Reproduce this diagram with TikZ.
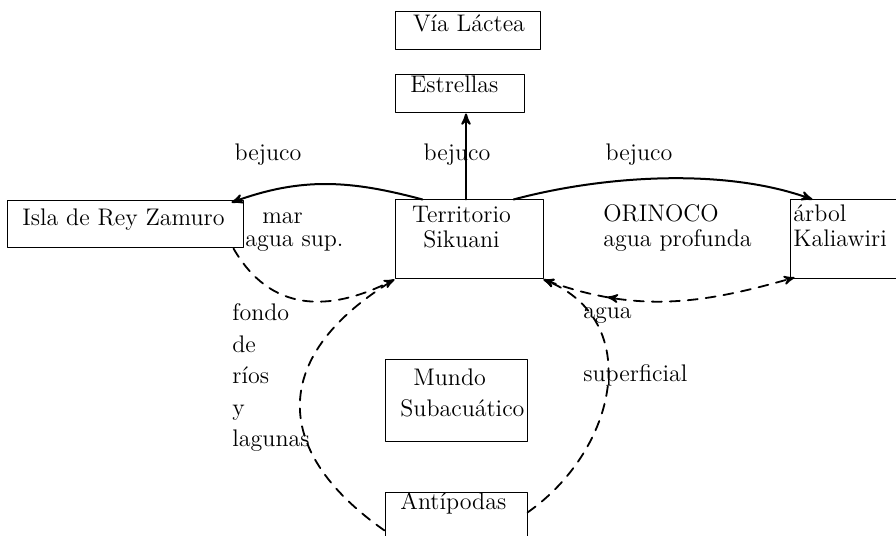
\documentclass[tikz,border=0pt]{standalone}
\usepackage{tikz}
\usetikzlibrary{arrows}
\usetikzlibrary{decorations.markings}
\tikzset{
  caja/.style={draw, line width=0.5pt, inner sep=0pt},
  txt/.style={inner sep=0pt, align=left},
  ancho/.style={font=\fontsize{12}{15.8}\selectfont},
  bejuco/.style={line width=1pt, ->},
  agua/.style={line width=0.9pt, dash pattern=on 5pt off 4pt, ->},
  flechamedio/.style={postaction={decorate}, decoration={markings, mark=at position 0.3 with {\arrow{<}}}}
}
\begin{document}
\begin{tikzpicture}[line cap=round,line join=round,>=stealth',x=0.5pt,y=0.5pt,font=\fontsize{12}{12.5}\selectfont]
\useasboundingbox (0,0) rectangle (896,536);
% cajas
\node[caja, minimum width=72.5pt, minimum height=19pt] (via) at (467.5,505) {};
\node[caja, minimum width=64.5pt, minimum height=19pt] (estr) at (459.5,442) {};
\node[caja, minimum width=118pt, minimum height=23.5pt] (isla) at (125,311.5) {};
\node[caja, minimum width=74pt, minimum height=39.5pt] (terr) at (469,296.5) {};
\node[caja, minimum width=60pt, minimum height=39.5pt] (arbol) at (850,296.5) {};
\node[caja, minimum width=71pt, minimum height=41pt] (mundo) at (456,135) {};
\node[caja, minimum width=71pt, minimum height=33.5pt] (antip) at (456,9.5) {};
% textos de las cajas (base = ultima linea)
\node[txt, anchor=base] (via1) at (469,504) {Vía Láctea};
\node[txt, anchor=base west] (estr1) at (410,443) {Estrellas};
\node[txt, anchor=base west] (isla1) at (22,310) {Isla de Rey Zamuro};
\node[txt, align=center, anchor=base] (terr1) at (461.5,288) {Territorio\\Sikuani};
\node[txt, anchor=base west] (arbol1) at (793,289) {árbol\\Kaliawiri};
\node[txt, ancho, anchor=base west] (mundo1) at (400,119) {\hspace*{6.5pt}Mundo\\Subacuático};
\node[txt, anchor=base west] (antip1) at (400,26) {Antípodas};
% etiquetas
\node[txt, anchor=base] (bej1) at (268,375) {bejuco};
\node[txt, anchor=base] (bej2) at (457,375) {bejuco};
\node[txt, anchor=base] (bej3) at (639,375) {bejuco};
\node[txt, anchor=base west] (mar) at (262,312) {mar};
\node[txt, anchor=base west] (aguasup) at (245,289) {agua sup.};
\node[txt, anchor=base west] (orin) at (603,289) {ORINOCO\\agua profunda};
\node[txt, ancho, anchor=base west] (fondo) at (232,89) {fondo\\de\\ríos\\y\\lagunas};
\node[txt, ancho, anchor=base west] (superf) at (583,154) {agua\\[15.8pt]superficial};
% conexiones
\draw[bejuco] ([xshift=-1.5pt]terr.north) -- ([xshift=-1.5pt]terr.north |- estr.south);
\draw[bejuco] ([xshift=14pt]terr.north west) to[out=165,in=20] ([xshift=-6pt,yshift=-1pt]isla.north east);
\draw[bejuco] ([xshift=-15pt]terr.north east) to[out=15,in=160,looseness=0.8] ([xshift=11.5pt]arbol.north west);
\draw[agua] ([xshift=-5pt]isla.south east) to[out=-60,in=207,looseness=1.15] (terr.south west);
\draw[agua, <->, flechamedio] (terr.south east) to[out=-20,in=196] ([xshift=2.5pt,yshift=1pt]arbol.south west);
\draw[agua, -] ([yshift=-2pt]antip.west) to[out=145,in=211,looseness=1.45] (terr.south west);
\draw[agua] ([yshift=7pt]antip.east) to[out=35,in=-22,looseness=1.2] (terr.south east);
\end{tikzpicture}
\end{document}
